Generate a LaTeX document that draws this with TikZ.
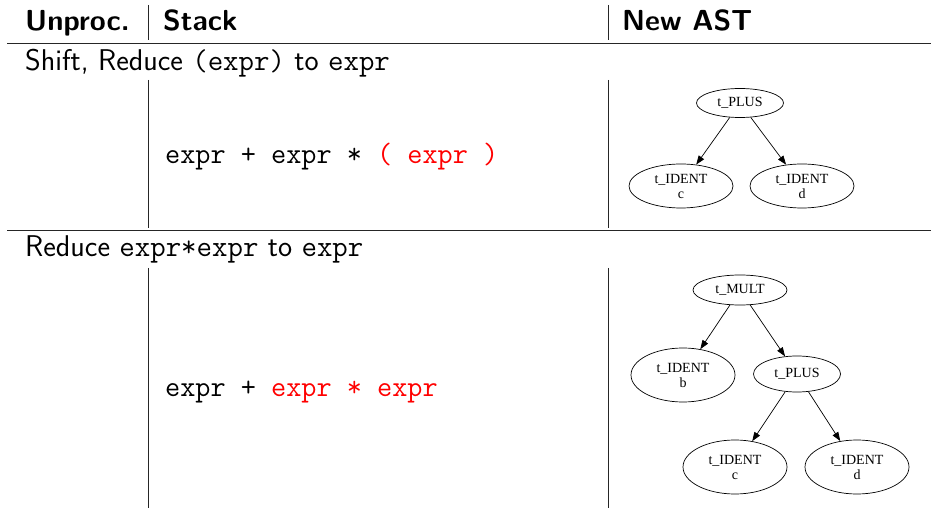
\documentclass[tikz,border=0pt]{standalone}
\usepackage{fontspec}
\usetikzlibrary{arrows.meta,shapes.geometric}
\newfontfamily\timesf{Liberation Serif}
\begin{document}
\begin{tikzpicture}[x=1pt,y=-1pt,
  hdr/.style={anchor=base west,inner sep=0pt,font=\sffamily\bfseries\fontsize{29}{34}\selectfont},
  ttl/.style={anchor=base west,inner sep=0pt,font=\sffamily\fontsize{30}{35}\selectfont},
  stk/.style={anchor=base west,inner sep=0pt,font=\ttfamily\fontsize{29.4}{34}\selectfont},
  rule/.style={draw=black!85,line width=0.9pt},
  astnode/.style={ellipse,draw,line width=0.7pt,inner sep=0pt,align=center,
    font=\timesf\fontsize{14}{15}\selectfont},
  small/.style={astnode,minimum width=87pt,minimum height=29pt},
  ident/.style={astnode,minimum width=104pt,minimum height=44pt},
  identb/.style={astnode,minimum width=104pt,minimum height=54pt},
  edge/.style={draw,line width=0.7pt,-{Triangle[length=9pt,width=6.5pt]}}
]
\useasboundingbox (0,0) rectangle (931,510);
% header
\node[hdr] (h1) at (25,31) {Unproc.};
\node[hdr] (h2) at (163,31) {Stack};
\node[hdr] (h3) at (622,31) {New AST};
\coordinate (v1a) at (148,5);  \coordinate (v1b) at (148,40);
\coordinate (v2a) at (608,5);  \coordinate (v2b) at (608,40);
\draw[rule] (v1a) -- (v1b);
\draw[rule] (v2a) -- (v2b);
\coordinate (r1a) at (7,43); \coordinate (r1b) at (931,43);
\draw[rule] (r1a) -- (r1b);
% row 1
\node[ttl] (t1) at (25,71) {Shift, Reduce \texttt{(expr)} to \texttt{expr}};
\coordinate (v3a) at (148,80);  \coordinate (v3b) at (148,228);
\coordinate (v4a) at (608,80);  \coordinate (v4b) at (608,228);
\draw[rule] (v3a) -- (v3b);
\draw[rule] (v4a) -- (v4b);
\node[stk] (s1) at (165,164) {expr + expr * \textcolor{red}{( expr )}};
\node[small] (p1) at (740,103) {t\_PLUS};
\node[ident] (c1) at (681,186) {t\_IDENT\\c};
\node[ident] (d1) at (802,186) {t\_IDENT\\d};
\draw[edge] (p1) -- (c1);
\draw[edge] (p1) -- (d1);
\coordinate (r2a) at (7,230); \coordinate (r2b) at (931,230);
\draw[rule] (r2a) -- (r2b);
% row 2
\node[ttl] (t2) at (25,257) {Reduce \texttt{expr*expr} to \texttt{expr}};
\coordinate (v5a) at (148,268);  \coordinate (v5b) at (148,508);
\coordinate (v6a) at (608,268);  \coordinate (v6b) at (608,508);
\draw[rule] (v5a) -- (v5b);
\draw[rule] (v6a) -- (v6b);
\node[stk] (s2) at (165,396) {expr + \textcolor{red}{expr * expr}};
\node[small,minimum width=94pt,minimum height=30pt] (m2) at (740,290) {t\_MULT};
\node[identb] (b2) at (683,375) {t\_IDENT\\b};
\node[small,minimum height=36pt] (p2) at (797,374) {t\_PLUS};
\node[identb] (c2) at (735,467) {t\_IDENT\\c};
\node[identb] (d2) at (857,467) {t\_IDENT\\d};
\draw[edge] (m2) -- (b2);
\draw[edge] (m2) -- (p2);
\draw[edge] (p2) -- (c2);
\draw[edge] (p2) -- (d2);
\end{tikzpicture}
\end{document}
